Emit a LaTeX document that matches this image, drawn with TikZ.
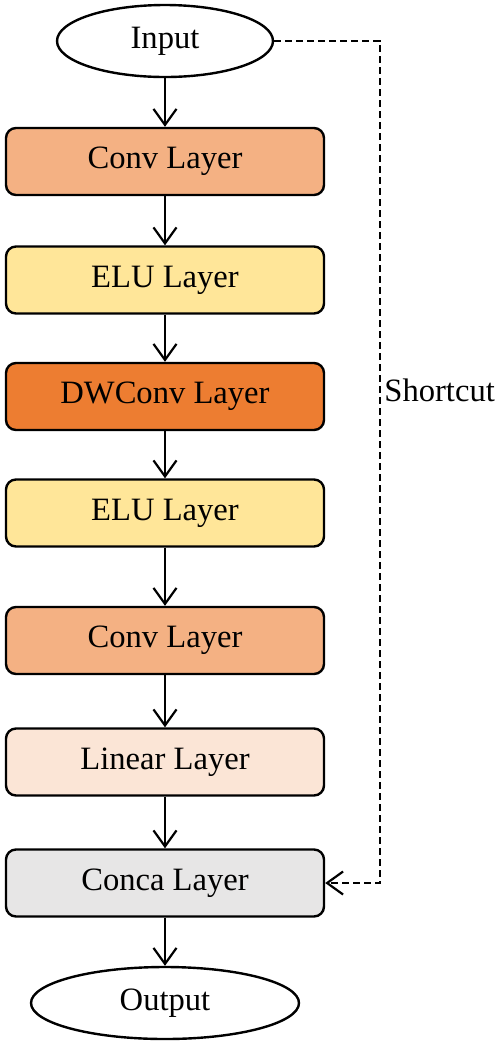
\documentclass[tikz,border=0pt]{standalone}
\usepackage{fontspec}
\setmainfont{Liberation Serif}
\usetikzlibrary{arrows.meta,shapes.geometric}
\definecolor{convcol}{HTML}{F4B183}
\definecolor{elucol}{HTML}{FFE699}
\definecolor{dwcol}{HTML}{ED7D31}
\definecolor{lincol}{HTML}{FBE5D6}
\definecolor{concol}{HTML}{E7E6E6}
\tikzset{
  layer/.style = {shape=rectangle, rounded corners=5pt, draw, line width=1.2pt,
                  minimum width=159pt, minimum height=33.5pt,
                  font=\fontsize{16.3}{19}\selectfont},
  conv/.style  = {layer, fill=convcol},
  elu/.style   = {layer, fill=elucol},
  dwconv/.style= {layer, fill=dwcol},
  linear/.style= {layer, fill=lincol},
  conca/.style = {layer, fill=concol},
  term/.style  = {ellipse, draw, line width=1.2pt, minimum height=36pt,
                  inner sep=0pt, font=\fontsize{16.3}{19}\selectfont},
  flow/.style  = {line width=1.1pt, -{Straight Barb[length=8pt,width=11.5pt,line width=1.1pt]}},
  skip/.style  = {flow, dash pattern=on 3.5pt off 2pt}
}
\begin{document}
\begin{tikzpicture}[x=0.5pt,y=-0.5pt]
  \useasboundingbox (0,0) rectangle (500,1046);

  \node [term, minimum width=108pt] (in) at (165,41) {Input};
  \node [conv]   (c1) at (165,161.5) {Conv Layer};
  \node [elu]    (e1) at (165,280)   {ELU Layer};
  \node [dwconv] (dw) at (165,396.5) {DWConv Layer};
  \node [elu]    (e2) at (165,513)   {ELU Layer};
  \node [conv]   (c2) at (165,640.5) {Conv Layer};
  \node [linear] (li) at (165,762)   {Linear Layer};
  \node [conca]  (cc) at (165,883)   {Conca Layer};
  \node [term, minimum width=134pt] (out) at (165,1003) {Output};

  \draw [flow] (in) -- (c1);
  \draw [flow] (c1) -- (e1);
  \draw [flow] (e1) -- (dw);
  \draw [flow] (dw) -- (e2);
  \draw [flow] (e2) -- (c2);
  \draw [flow] (c2) -- (li);
  \draw [flow] (li) -- (cc);
  \draw [flow] (cc) -- (out);

  % shortcut branch
  \coordinate (turn) at (380,41);
  \draw [skip] (in.east) -- (turn) |- (cc.east);
  \node [anchor=west, inner sep=0pt, font=\fontsize{16.3}{19}\selectfont]
        (sc) at (384,390) {Shortcut};
\end{tikzpicture}
\end{document}
